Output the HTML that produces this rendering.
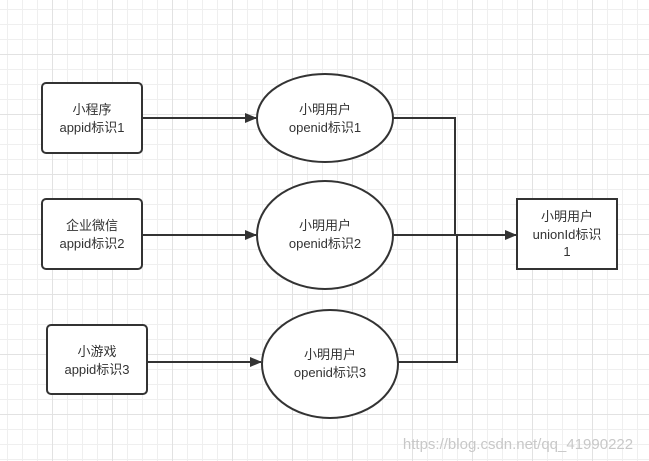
<!DOCTYPE html>
<html><head><meta charset="utf-8"><style>
body{margin:0;width:649px;height:461px;overflow:hidden;background:#fff;
background-image:linear-gradient(#e2e2e2 1px,transparent 1px),linear-gradient(90deg,#e2e2e2 1px,transparent 1px),linear-gradient(#efefef 1px,transparent 1px),linear-gradient(90deg,#efefef 1px,transparent 1px);
background-size:60px 60px,60px 60px,15px 15px,15px 15px;background-position:-8px -6px}
text{font-family:"Liberation Sans","Noto Sans CJK SC",sans-serif;font-size:13px;fill:#333;text-anchor:middle}
</style></head><body>
<svg width="649" height="461" style="position:absolute;left:0;top:0">
<defs><marker id="a" markerWidth="12" markerHeight="10" refX="11" refY="5" orient="auto" markerUnits="userSpaceOnUse"><path d="M0,0 L12,5 L0,10 Z" fill="#333"/></marker></defs>
<g stroke="#333" stroke-width="2" fill="#fff">
<rect x="42" y="83" width="100" height="70" rx="4"/>
<rect x="42" y="199" width="100" height="70" rx="4"/>
<rect x="47" y="325" width="100" height="69" rx="4"/>
<ellipse cx="325" cy="118" rx="68" ry="44"/>
<ellipse cx="325" cy="235" rx="68" ry="54"/>
<ellipse cx="330" cy="364" rx="68" ry="54"/>
<rect x="517" y="199" width="100" height="70"/>
<g fill="none">
<path d="M142,118 H256" marker-end="url(#a)"/>
<path d="M142,235 H256" marker-end="url(#a)"/>
<path d="M147,362 H261" marker-end="url(#a)"/>
<path d="M393,118 H455 V235"/>
<path d="M398,362 H457 V235"/>
<path d="M393,235 H516" marker-end="url(#a)"/>
</g></g>
<text x="92" y="114">小程序</text><text x="92" y="132">appid标识1</text>
<text x="92" y="230">企业微信</text><text x="92" y="248">appid标识2</text>
<text x="97" y="356">小游戏</text><text x="97" y="374">appid标识3</text>
<text x="325" y="114">小明用户</text><text x="325" y="132">openid标识1</text>
<text x="325" y="230">小明用户</text><text x="325" y="248">openid标识2</text>
<text x="330" y="359">小明用户</text><text x="330" y="377">openid标识3</text>
<text x="567" y="221">小明用户</text><text x="567" y="239">unionId标识</text><text x="567" y="256">1</text>
<text x="518" y="449" style="font-size:15px;fill:#c8c8c8">https://blog.csdn.net/qq_41990222</text>
</svg>
</body></html>
